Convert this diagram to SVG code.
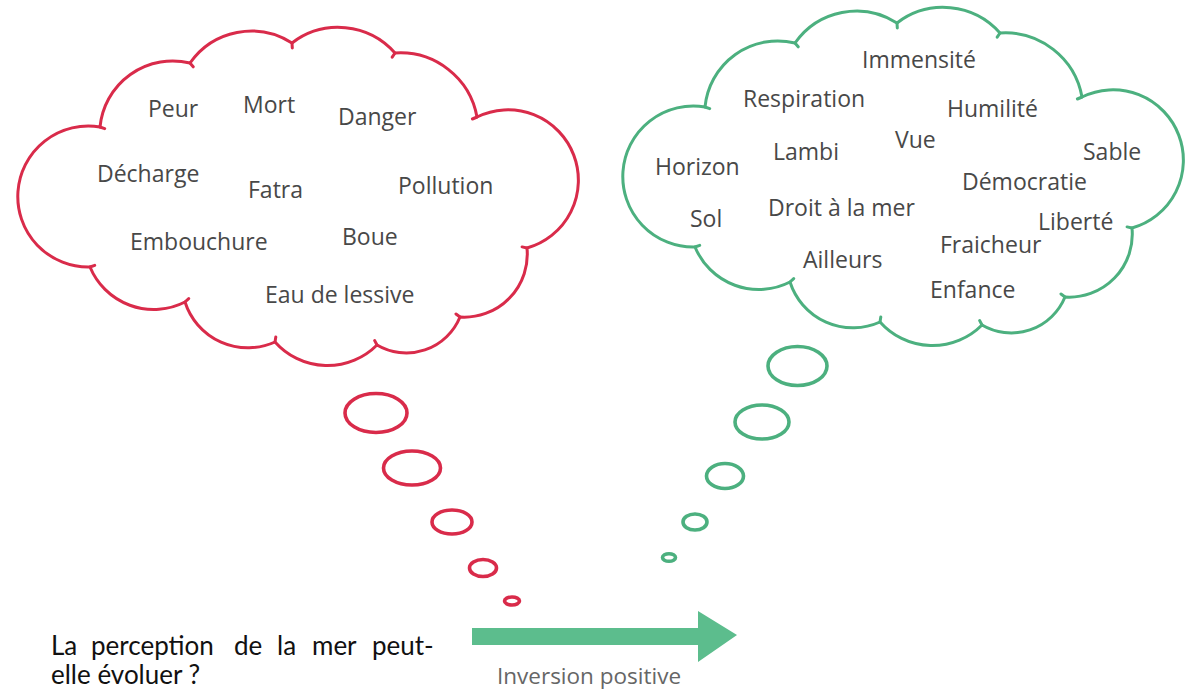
<svg xmlns="http://www.w3.org/2000/svg" xmlns:xlink="http://www.w3.org/1999/xlink" width="1190" height="691" viewBox="0 0 1190 691">
  <style>
    .cloud { fill: #ffffff; stroke-width: 3; stroke-linejoin: miter; stroke-linecap: round; }
    .red { stroke: #d92b4a; }
    .green { stroke: #4cb07f; }
    .bubble { fill: none; stroke-width: 3.6; }
    .word { font-family: "Open Sans", "Noto Sans", sans-serif; font-size: 23px; fill: #484848; }
    .caption { font-family: "Open Sans", "Noto Sans", sans-serif; font-size: 22.5px; fill: #666666; }
    .question { font-family: Lato, "Open Sans", sans-serif; font-size: 26px; fill: #111111; }
  </style>
  <defs>
    <!-- cloud outline: arcs between cusps, with small ticks at each cusp -->
    <path id="cloudShape" d="M100 127 A73 73 0 0 1 190 63 A75 75 0 0 1 292 43 A76 76 0 0 1 395 53 A78 78 0 0 1 477 117 A70.4 70.4 0 1 1 527 248 A63 63 0 0 1 460 317 A58 58 0 0 1 377 345 A70 70 0 0 1 275 342 A66 66 0 0 1 185 302 A69 69 0 0 1 90 267 A70.5 70.5 0 1 1 100 127 Z"/>
    <path id="cloudTicks" d="M100 127 l4.7 1.6 M190 63 l3.2 3.8 M292 43 l0.3 5 M395 53 l-2.8 4.2 M477 117 l-4.6 2 M527 248 l-4.9 -1.1 M460 317 l-4 -3 M377 345 l-2.3 -4.4 M275 342 l0.8 -4.9 M185 302 l3.7 -3.4 M90 267 l4.7 -1.6" fill="none"/>
  </defs>

  <rect x="0" y="0" width="1190" height="691" fill="#ffffff"/>

  <!-- negative perception cloud -->
  <g id="cloud-negative">
    <use xlink:href="#cloudShape" href="#cloudShape" class="cloud red"/>
    <use xlink:href="#cloudTicks" href="#cloudTicks" class="cloud red" style="fill:none"/>
    <text class="word" x="148" y="117">Peur</text>
    <text class="word" x="243" y="113">Mort</text>
    <text class="word" x="338" y="125">Danger</text>
    <text class="word" x="97" y="182">Décharge</text>
    <text class="word" x="248" y="198">Fatra</text>
    <text class="word" x="398" y="194">Pollution</text>
    <text class="word" x="130" y="250">Embouchure</text>
    <text class="word" x="342" y="245">Boue</text>
    <text class="word" x="265" y="303">Eau de lessive</text>
  </g>

  <!-- positive perception cloud -->
  <g id="cloud-positive">
    <g transform="translate(605,-20)">
      <use xlink:href="#cloudShape" href="#cloudShape" class="cloud green"/>
      <use xlink:href="#cloudTicks" href="#cloudTicks" class="cloud green" style="fill:none"/>
    </g>
    <text class="word" x="862" y="68">Immensité</text>
    <text class="word" x="743" y="107">Respiration</text>
    <text class="word" x="947" y="117">Humilité</text>
    <text class="word" x="895" y="148">Vue</text>
    <text class="word" x="773" y="160">Lambi</text>
    <text class="word" x="655" y="175">Horizon</text>
    <text class="word" x="1083" y="160">Sable</text>
    <text class="word" x="962" y="190">Démocratie</text>
    <text class="word" x="768" y="216">Droit à la mer</text>
    <text class="word" x="690" y="227">Sol</text>
    <text class="word" x="1038" y="230">Liberté</text>
    <text class="word" x="940" y="253">Fraicheur</text>
    <text class="word" x="803" y="268">Ailleurs</text>
    <text class="word" x="930" y="298">Enfance</text>
  </g>

  <!-- thought bubbles trailing from each cloud -->
  <g id="trail-negative" class="red">
    <ellipse class="bubble" cx="376" cy="413" rx="31" ry="19.5"/>
    <ellipse class="bubble" cx="412" cy="468" rx="28.5" ry="17"/>
    <ellipse class="bubble" cx="452" cy="522" rx="20" ry="12"/>
    <ellipse class="bubble" cx="483" cy="568" rx="13.5" ry="8.5"/>
    <ellipse class="bubble" cx="512" cy="601" rx="7.5" ry="4"/>
  </g>
  <g id="trail-positive" class="green">
    <ellipse class="bubble" cx="797.5" cy="366" rx="29.5" ry="19.5"/>
    <ellipse class="bubble" cx="762" cy="422" rx="27" ry="17"/>
    <ellipse class="bubble" cx="725" cy="476" rx="18.5" ry="12.5"/>
    <ellipse class="bubble" cx="695" cy="522" rx="12" ry="8"/>
    <ellipse class="bubble" cx="669" cy="557.5" rx="6.5" ry="3.8"/>
  </g>

  <!-- transition arrow -->
  <g id="connectors">
    <path d="M472 628 H698 V611 L737 635 L698 662 V645 H472 Z" fill="#5cbd8d"/>
  </g>

  <g id="label-inversion">
    <text class="caption" x="497" y="684">Inversion positive</text>
  </g>

  <g id="question">
    <text class="question" y="655">
      <tspan x="51">La</tspan><tspan x="91">perception</tspan><tspan x="234">de</tspan><tspan x="277">la</tspan><tspan x="312">mer</tspan><tspan x="372">peut-</tspan>
    </text>
    <text class="question" x="51" y="684">elle évoluer ?</text>
  </g>
</svg>
